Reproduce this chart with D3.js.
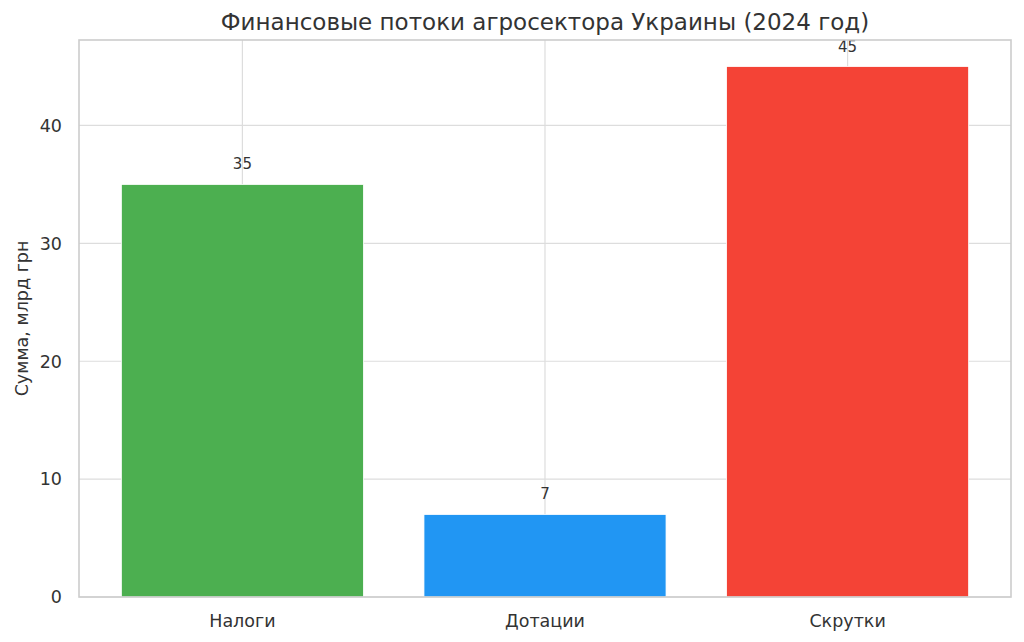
<!DOCTYPE html>
<html><head><meta charset="utf-8">
<script src="https://cdn.jsdelivr.net/npm/d3@7"></script>
<style>body{margin:0;background:#fff}svg{display:block}text{font-family:"DejaVu Sans",sans-serif;fill:#333}</style>
</head><body>
<svg id="chart" width="1024" height="642"></svg>
<script>
const categories = ["Налоги", "Дотации", "Скрутки"];
const values = [35, 7, 45];
const colors = ["#4CAF50", "#2196F3", "#F44336"];
const yTicks = [0, 10, 20, 30, 40];
const title = "Финансовые потоки агросектора Украины (2024 год)";
const yLabel = "Сумма, млрд грн";

const svg = d3.select("#chart");
const L = 79, R = 1011, T = 40, B = 597;

const x = d3.scaleLinear().domain([-0.54, 2.54]).range([L, R]);
const y = d3.scaleLinear().domain([0, 47.25]).range([B, T]);

// grid
svg.append("g").selectAll("line").data(yTicks).join("line")
  .attr("x1", L).attr("x2", R).attr("y1", d => y(d)).attr("y2", d => y(d))
  .attr("stroke", "#dddddd").attr("stroke-width", 1.2);
svg.append("g").selectAll("line").data(categories).join("line")
  .attr("x1", (d, i) => x(i)).attr("x2", (d, i) => x(i)).attr("y1", T).attr("y2", B)
  .attr("stroke", "#dddddd").attr("stroke-width", 1.2);

// bars
svg.append("g").selectAll("rect").data(values).join("rect")
  .attr("x", (d, i) => x(i - 0.4)).attr("width", (d, i) => x(i + 0.4) - x(i - 0.4))
  .attr("y", d => y(d)).attr("height", d => y(0) - y(d))
  .attr("fill", (d, i) => colors[i]).attr("stroke", "#ffffff").attr("stroke-width", 0.8);

// value labels
svg.append("g").selectAll("text").data(values).join("text")
  .attr("x", (d, i) => x(i)).attr("y", d => y(d) - 15)
  .attr("text-anchor", "middle").attr("font-size", 15).text(d => d);

// frame
svg.append("rect").attr("x", L).attr("y", T).attr("width", R - L).attr("height", B - T)
  .attr("fill", "none").attr("stroke", "#cccccc").attr("stroke-width", 1.6);

// y tick labels
svg.append("g").selectAll("text").data(yTicks).join("text")
  .attr("x", L - 17).attr("y", d => y(d)).attr("dy", "0.36em")
  .attr("text-anchor", "end").attr("font-size", 17.5).text(d => d);

// x tick labels
svg.append("g").selectAll("text").data(categories).join("text")
  .attr("x", (d, i) => x(i)).attr("y", 627)
  .attr("text-anchor", "middle").attr("font-size", 17.5).text(d => d);

// title
svg.append("text").attr("x", (L + R) / 2).attr("y", 30)
  .attr("text-anchor", "middle").attr("font-size", 23).text(title);

// y label
svg.append("text").attr("transform", `translate(28,${(T + B) / 2}) rotate(-90)`)
  .attr("text-anchor", "middle").attr("font-size", 17.5).text(yLabel);
</script>
</body></html>
